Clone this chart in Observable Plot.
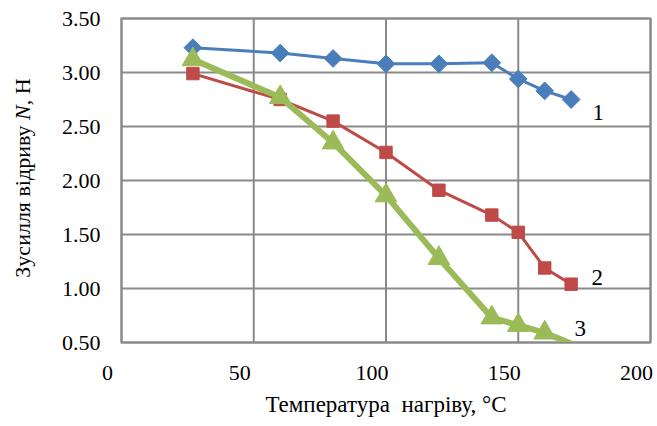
<!DOCTYPE html>
<html><head><meta charset="utf-8">
<script src="https://cdn.jsdelivr.net/npm/d3@7"></script>
<script src="https://cdn.jsdelivr.net/npm/@observablehq/plot@0.6"></script>
<style>body{margin:0;background:#fff}</style>
</head><body><div id="chart"></div>
<script>
const temperature = [27, 60, 80, 100, 120, 140, 150, 160, 170];
const series1 = [3.23, 3.18, 3.13, 3.08, 3.08, 3.09, 2.94, 2.83, 2.75];
const series2 = [2.99, 2.75, 2.55, 2.26, 1.91, 1.68, 1.52, 1.19, 1.04];
const series3 = [3.12, 2.77, 2.35, 1.86, 1.28, 0.73, 0.66, 0.59, 0.49];
const seriesNames = ["1", "2", "3"];
const xTicks = [0, 50, 100, 150, 200];
const yTicks = [0.5, 1, 1.5, 2, 2.5, 3, 3.5];
const xTitle = "Температура\u00a0 нагріву, °C";
const yTitleParts = ["Зусилля відриву ", "N", ", Н"];

const toRows = (vals) => temperature.map((t, i) => ({t, v: vals[i]}));
const d1 = toRows(series1), d2 = toRows(series2), d3r = toRows(series3);
const inside = (d) => d.v >= 0.5 && d.v <= 3.5;

const grid = "#8a8a8a";
const font = "'Liberation Serif', 'Times New Roman', serif";
const cfg = [
  {data: d1, color: "#4a7ebb", sw: 3, symbol: "diamond2", r: 8, dx: 27, dy: 13, name: seriesNames[0]},
  {data: d2, color: "#be4b48", sw: 3, symbol: "square", r: 7, dx: 26, dy: -7, name: seriesNames[1]},
  {data: d3r, color: "#9bbb59", sw: 6, symbol: "triangle", r: 8, dx: 9, dy: -14, name: seriesNames[2]}
];

const marks = [
  Plot.gridX(xTicks, {stroke: grid, strokeOpacity: 1, strokeWidth: 2}),
  Plot.gridY(yTicks, {stroke: grid, strokeOpacity: 1, strokeWidth: 2}),
  Plot.frame({stroke: grid, strokeWidth: 2}),
  Plot.axisX(xTicks, {tickSize: 0, tickPadding: 22, dx: -14, tickFormat: d => String(d), label: null, fontSize: 22}),
  Plot.axisY(yTicks, {tickSize: 0, tickPadding: 21, tickFormat: d3.format(".2f"), label: null, fontSize: 22}),
];
for (const c of cfg) {
  marks.push(Plot.line(c.data, {x: "t", y: "v", stroke: c.color, strokeWidth: c.sw, clip: true}));
  marks.push(Plot.dot(c.data.filter(inside), {x: "t", y: "v", fill: c.color, symbol: c.symbol, r: c.r, stroke: c.color, strokeWidth: 1}));
  const last = c.data[c.data.length - 1];
  marks.push(Plot.text([c.name], {x: () => last.t, y: () => Math.max(last.v, 0.5), text: d => d, dx: c.dx, dy: c.dy, fontSize: 23, fill: "#000"}));
}
marks.push(Plot.text([xTitle], {frameAnchor: "bottom", dy: 69, fontSize: 23, fill: "#000", text: d => d}));

const plot = Plot.plot({
  width: 657, height: 426,
  marginLeft: 121, marginRight: 7, marginTop: 18, marginBottom: 84,
  style: {fontFamily: font, fontSize: "22px", color: "#000", background: "#fff"},
  x: {domain: [0, 200], axis: null},
  y: {domain: [0.5, 3.5], axis: null},
  marks
});
const t = d3.select(plot).append("text")
  .attr("transform", "translate(22,178) rotate(-90)")
  .attr("text-anchor", "middle")
  .attr("dy", "0.35em")
  .attr("font-size", 22)
  .attr("fill", "#000");
t.append("tspan").text(yTitleParts[0]);
t.append("tspan").attr("font-style", "italic").text(yTitleParts[1]);
t.append("tspan").text(yTitleParts[2]);
document.getElementById("chart").append(plot);
</script>
</body></html>
